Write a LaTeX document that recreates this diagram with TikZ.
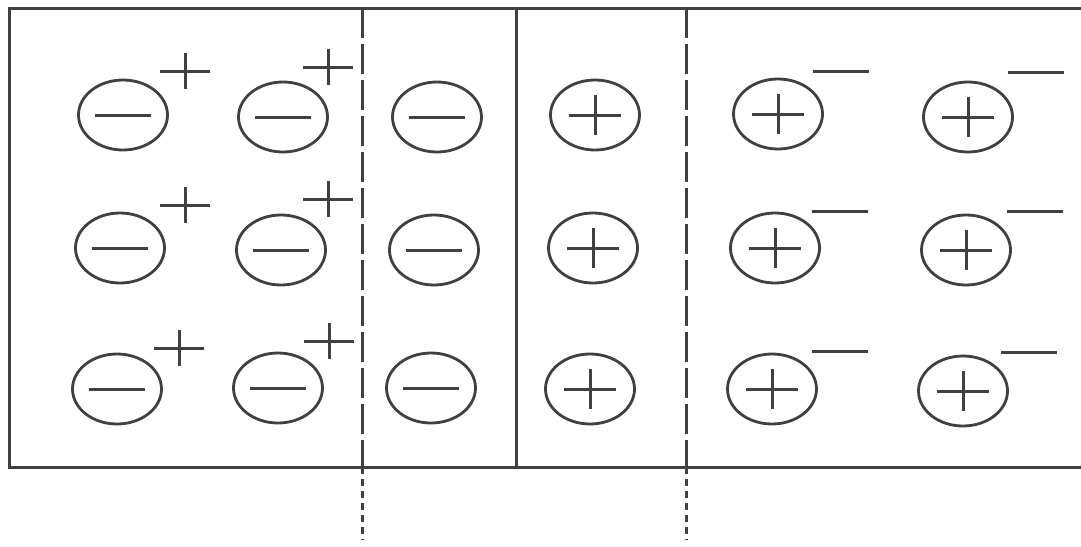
\documentclass[tikz,border=0pt]{standalone}
\usetikzlibrary{shapes.geometric}
\definecolor{ink}{HTML}{404040}
\tikzset{
  ion/.style={ellipse, draw=ink, line width=2.8pt, minimum width=89pt, minimum height=70pt, inner sep=0pt},
  signline/.style={draw=ink, line width=3pt},
  anion/.style={ion, path picture={\draw[signline] ([xshift=-28pt]path picture bounding box.center) -- ([xshift=28pt]path picture bounding box.center);}},
  cation/.style={ion, path picture={
     \draw[signline] ([xshift=-26pt]path picture bounding box.center) -- ([xshift=26pt]path picture bounding box.center);
     \draw[signline] ([yshift=-20pt]path picture bounding box.center) -- ([yshift=20pt]path picture bounding box.center);}},
  supplus/.style={minimum width=52pt, minimum height=40pt, inner sep=0pt, path picture={
     \draw[signline] ([xshift=-25pt]path picture bounding box.center) -- ([xshift=25pt]path picture bounding box.center);
     \draw[signline] ([yshift=-18pt]path picture bounding box.center) -- ([yshift=18pt]path picture bounding box.center);}},
  supminus/.style={minimum width=58pt, minimum height=8pt, inner sep=0pt, path picture={
     \draw[signline] ([xshift=-28pt]path picture bounding box.center) -- ([xshift=28pt]path picture bounding box.center);}},
  frame/.style={draw=ink, line width=3pt},
  divider/.style={draw=ink, line width=3pt, dash pattern=on 30pt off 6pt},
  divtail/.style={draw=ink, line width=3pt, dash pattern=on 7pt off 5pt},
}
\begin{document}
\begin{tikzpicture}[x=1pt,y=-1pt]
\useasboundingbox[fill=white] (0,0) rectangle (1081,546);
% frame
\coordinate (tr) at (1081,8);
\coordinate (tl) at (9,8);
\coordinate (bl) at (9,467);
\coordinate (br) at (1081,467);
\draw[frame] (tr) -- (tl) -- (bl) -- (br);
% solid junction line
\coordinate (st) at (516,8);
\coordinate (sb) at (516,467);
\draw[frame] (st) -- (sb);
% dashed depletion boundaries
\coordinate (d1t) at (362,8);
\coordinate (d1m) at (362,467);
\coordinate (d1b) at (362,540);
\coordinate (d2t) at (686,8);
\coordinate (d2m) at (686,467);
\coordinate (d2b) at (686,540);
\draw[divider] (d1t) -- (d1m);
\draw[divtail] (d1m) -- (d1b);
\draw[divider] (d2t) -- (d2m);
\draw[divtail] (d2m) -- (d2b);
% row 1
\node[anion] (a1) at (123,115) {};
\node[anion] (b1) at (283,117) {};
\node[anion] (c1) at (437,117) {};
\node[cation] (d1) at (595,115) {};
\node[cation] (e1) at (778,114) {};
\node[cation] (f1) at (968,117) {};
\node[supplus] (pa1) at (185,71) {};
\node[supplus] (pb1) at (328,67) {};
\node[supminus] (me1) at (841,71) {};
\node[supminus] (mf1) at (1036,72) {};
% row 2
\node[anion] (a2) at (120,248) {};
\node[anion] (b2) at (281,250) {};
\node[anion] (c2) at (434,250) {};
\node[cation] (d2) at (593,248) {};
\node[cation] (e2) at (775,248) {};
\node[cation] (f2) at (966,250) {};
\node[supplus] (pa2) at (185,205) {};
\node[supplus] (pb2) at (328,199) {};
\node[supminus] (me2) at (840,211) {};
\node[supminus] (mf2) at (1035,211) {};
% row 3
\node[anion] (a3) at (117,389) {};
\node[anion] (b3) at (278,388) {};
\node[anion] (c3) at (431,388) {};
\node[cation] (d3) at (590,389) {};
\node[cation] (e3) at (772,389) {};
\node[cation] (f3) at (963,391) {};
\node[supplus] (pa3) at (179,348) {};
\node[supplus] (pb3) at (329,341) {};
\node[supminus] (me3) at (840,351) {};
\node[supminus] (mf3) at (1029,352) {};
\end{tikzpicture}
\end{document}
